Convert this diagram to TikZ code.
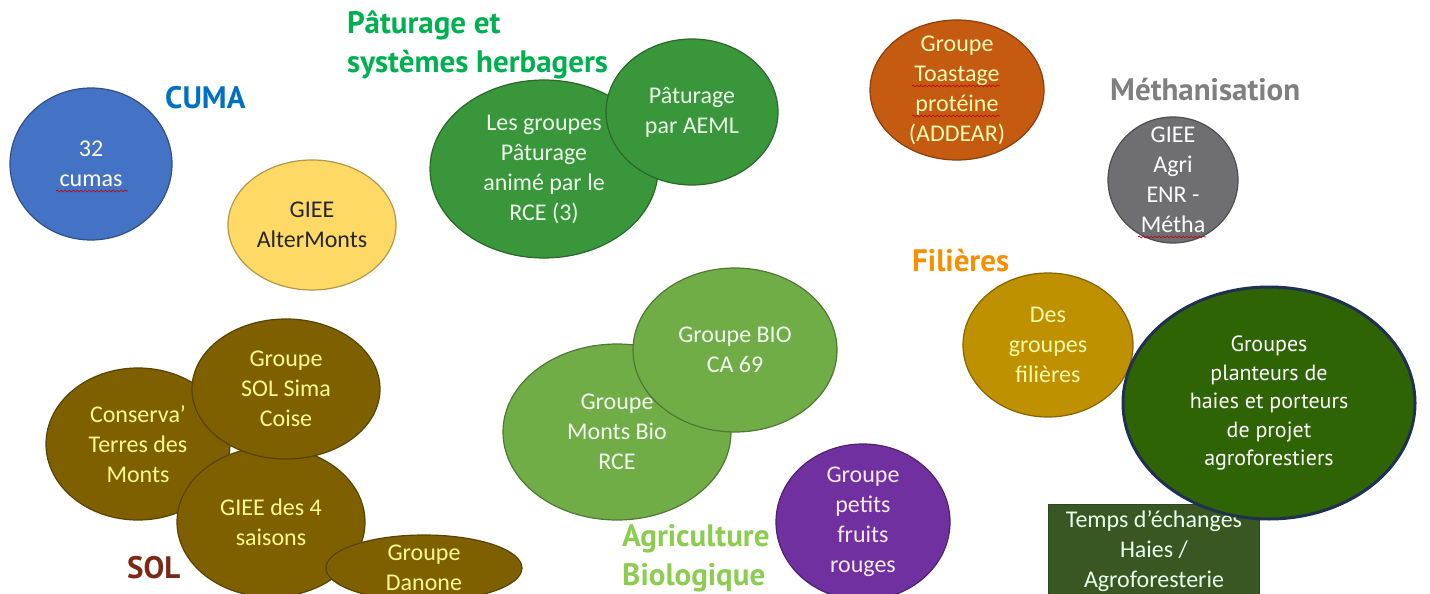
\documentclass[tikz,border=0pt]{standalone}
\usepackage{fontspec}
\setmainfont{Carlito}
\newfontfamily\headfont{PT Sans}
\usetikzlibrary{shapes.geometric,decorations.pathmorphing}

\definecolor{cumablue}{HTML}{4472C4}
\definecolor{alteryel}{HTML}{FFD966}
\definecolor{patgreen}{HTML}{3A963A}
\definecolor{toastor}{HTML}{C55A11}
\definecolor{methgray}{HTML}{6F6F73}
\definecolor{solbrown}{HTML}{7F6000}
\definecolor{biogreen}{HTML}{70AD47}
\definecolor{fruitpur}{HTML}{7030A0}
\definecolor{filgold}{HTML}{BF9000}
\definecolor{haiegreen}{HTML}{2F6405}
\definecolor{haieblue}{HTML}{1F3050}
\definecolor{echgreen}{HTML}{385723}
% titles
\definecolor{cumatitle}{HTML}{0070C0}
\definecolor{pattitle}{HTML}{00B050}
\definecolor{methtitle}{HTML}{7F7F7F}
\definecolor{filtitle}{HTML}{F79000}
\definecolor{soltitle}{HTML}{7B2814}
\definecolor{biotitle}{HTML}{8CCC50}

\begin{document}
\begin{tikzpicture}[x=1pt, y=-1pt,
    bub/.style={ellipse, draw=#1!70!black, fill=#1, line width=1.2pt, inner sep=0pt},
    txt/.style={font=\fontsize{24}{30}\selectfont, align=center},
    head/.style={font=\headfont\bfseries\fontsize{31}{39}\selectfont, anchor=west, align=left, inner sep=0pt},
    wavy/.style={draw=red!75!black, line width=0.6pt, decorate, decoration={snake, amplitude=1pt, segment length=4pt}}]
  \useasboundingbox (0,0) rectangle (1430,594);

  % CUMA
  \node[bub=cumablue, minimum width=162pt, minimum height=152pt,
    label={[txt, text=white]center:{32\\cumas}}] (cumas) at (91,164) {};
  \node[bub=alteryel, minimum width=168pt, minimum height=130pt,
    label={[txt, text=black!85]center:{GIEE\\AlterMonts}}] (alter) at (312,225) {};

  % paturage
  \node[bub=patgreen, minimum width=228pt, minimum height=178pt,
    label={[txt, text=green!8]center:{Les groupes\\Pâturage\\animé par le\\RCE (3)}}] (patrce) at (544,169) {};
  \node[bub=patgreen, minimum width=172pt, minimum height=146pt,
    label={[txt, text=green!8]center:{Pâturage\\par AEML}}] (pataeml) at (692,112) {};

  % toastage, methanisation
  \node[bub=toastor, minimum width=174pt, minimum height=140pt,
    label={[txt, text=yellow!30]center:{Groupe\\Toastage\\protéine\\(ADDEAR)}}] (toast) at (957,90) {};
  \node[bub=methgray, minimum width=130pt, minimum height=126pt,
    label={[txt, text=white]center:{GIEE\\Agri\\ENR -\\Métha}}] (metha) at (1173,180) {};

  % sol
  \node[bub=solbrown, minimum width=184pt, minimum height=152pt,
    label={[txt, text=yellow!45]center:{Conserva’\\Terres des\\Monts}}] (conserva) at (138,444) {};
  \node[bub=solbrown, minimum width=188pt, minimum height=150pt,
    label={[txt, text=yellow!45]center:{GIEE des 4\\saisons}}] (saisons) at (271,522) {};
  \node[bub=solbrown, minimum width=188pt, minimum height=140pt,
    label={[txt, text=yellow!45]center:{Groupe\\SOL Sima\\Coise}}] (sima) at (286,389) {};
  \node[bub=solbrown, minimum width=196pt, minimum height=66pt,
    label={[txt, text=yellow!45]center:{Groupe\\Danone}}] (danone) at (424,568) {};

  % bio
  \node[bub=biogreen, minimum width=228pt, minimum height=176pt,
    label={[txt, text=green!5]center:{Groupe\\Monts Bio\\RCE}}] (montsbio) at (617,432) {};
  \node[bub=biogreen, minimum width=204pt, minimum height=164pt,
    label={[txt, text=green!5]center:{Groupe BIO\\CA 69}}] (ca69) at (735,350) {};
  \node[bub=fruitpur, minimum width=174pt, minimum height=156pt,
    label={[txt, text=violet!8]center:{Groupe\\petits\\fruits\\rouges}}] (fruits) at (863,522) {};

  % filieres, haies
  \node[bub=filgold, minimum width=170pt, minimum height=144pt,
    label={[txt, text=yellow!35]center:{Des\\groupes\\filières}}] (filieres) at (1048,345) {};
  \node[draw=echgreen!80!black, fill=echgreen, line width=1pt, minimum width=211pt, minimum height=94pt,
    txt, text=green!8, inner sep=0pt] (echanges) at (1154,551) {Temps d’échanges\\Haies /\\Agroforesterie};
  \node[ellipse, draw=haieblue, fill=haiegreen, line width=3pt, inner sep=0pt, minimum width=292pt, minimum height=232pt,
    label={[font=\headfont\fontsize{22}{28.5}\selectfont, align=center, text=white]center:{Groupes\\planteurs de\\haies et porteurs\\de projet\\agroforestiers}}] (haies) at (1269,403) {};

  % titles
  \node[head, text=cumatitle] (cumaT) at (165,98) {CUMA};
  \node[head, text=pattitle] (patT) at (347,45) {Pâturage et\\systèmes herbagers};
  \node[head, text=methtitle] (methT) at (1110,90) {Méthanisation};
  \node[head, text=filtitle] (filT) at (912,261) {Filières};
  \node[head, text=soltitle] (solT) at (127,568) {SOL};
  \node[head, text=biotitle] (bioT) at (622,558) {Agriculture\\Biologique};

  % spelling marks
  \draw[wavy] (56,191) -- (128,191);
  \draw[wavy] (912,86) -- (1000,86);
  \draw[wavy] (912,116) -- (1000,116);
  \draw[wavy] (1138,237) -- (1206,237);
\end{tikzpicture}
\end{document}
